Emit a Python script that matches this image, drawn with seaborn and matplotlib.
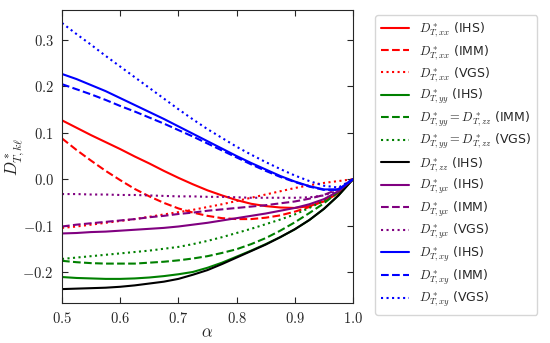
import numpy as np
import pandas as pd
import matplotlib
matplotlib.use("Agg")
import matplotlib.pyplot as plt
from matplotlib.ticker import FuncFormatter
import seaborn as sns

# valores (paso 0.025 en alpha)
alpha = [0.5, 0.525, 0.55, 0.575, 0.6, 0.625, 0.65, 0.675, 0.7, 0.725, 0.75,
         0.775, 0.8, 0.825, 0.85, 0.875, 0.9, 0.925, 0.95, 0.975, 1.0]

xx_ihs = [0.127, 0.111, 0.095, 0.080, 0.065, 0.049, 0.034, 0.018, 0.003, -0.011, -0.024,
          -0.035, -0.045, -0.053, -0.058, -0.061, -0.062, -0.058, -0.048, -0.03, 0.0]
xx_imm = [0.088, 0.063, 0.040, 0.018, -0.002, -0.021, -0.037, -0.051, -0.063, -0.072, -0.079,
          -0.084, -0.086, -0.086, -0.083, -0.078, -0.07, -0.06, -0.046, -0.027, 0.0]
xx_vgs = [-0.105, -0.102, -0.098, -0.094, -0.09, -0.086, -0.081, -0.076, -0.071, -0.066, -0.06,
          -0.054, -0.047, -0.04, -0.033, -0.026, -0.019, -0.013, -0.008, -0.004, 0.0]

yy_ihs = [-0.211, -0.213, -0.214, -0.215, -0.215, -0.214, -0.212, -0.209, -0.205, -0.2, -0.191,
          -0.18, -0.167, -0.154, -0.14, -0.125, -0.108, -0.088, -0.064, -0.035, 0.0]
yy_imm = [-0.176, -0.179, -0.181, -0.182, -0.182, -0.182, -0.18, -0.178, -0.175, -0.171, -0.166,
          -0.159, -0.151, -0.14, -0.127, -0.111, -0.093, -0.073, -0.052, -0.027, 0.0]
yy_vgs = [-0.172, -0.169, -0.166, -0.163, -0.16, -0.157, -0.154, -0.15, -0.146, -0.14, -0.133,
          -0.125, -0.116, -0.107, -0.097, -0.087, -0.076, -0.062, -0.046, -0.025, 0.0]

zz_ihs = [-0.237, -0.236, -0.235, -0.234, -0.232, -0.229, -0.225, -0.221, -0.215, -0.206, -0.196,
          -0.183, -0.169, -0.155, -0.141, -0.125, -0.108, -0.088, -0.064, -0.035, 0.0]

yx_ihs = [-0.117, -0.116, -0.114, -0.113, -0.111, -0.109, -0.107, -0.105, -0.102, -0.098, -0.094,
          -0.089, -0.084, -0.079, -0.074, -0.068, -0.062, -0.054, -0.043, -0.026, 0.0]
yx_imm = [-0.102, -0.098, -0.095, -0.092, -0.089, -0.086, -0.082, -0.079, -0.075, -0.072, -0.068,
          -0.065, -0.062, -0.059, -0.056, -0.052, -0.048, -0.042, -0.034, -0.021, 0.0]
yx_vgs = [-0.032, -0.032, -0.033, -0.033, -0.034, -0.034, -0.035, -0.036, -0.037, -0.037, -0.038,
          -0.038, -0.039, -0.04, -0.04, -0.04, -0.04, -0.039, -0.035, -0.024, 0.0]

xy_ihs = [0.227, 0.216, 0.203, 0.19, 0.175, 0.16, 0.145, 0.13, 0.114, 0.098, 0.082,
          0.066, 0.05, 0.035, 0.021, 0.007, -0.005, -0.015, -0.022, -0.022, 0.0]
xy_imm = [0.205, 0.194, 0.183, 0.171, 0.158, 0.146, 0.133, 0.12, 0.106, 0.092, 0.077,
          0.062, 0.047, 0.032, 0.018, 0.005, -0.006, -0.016, -0.023, -0.023, 0.0]
xy_vgs = [0.337, 0.313, 0.29, 0.266, 0.243, 0.22, 0.197, 0.174, 0.151, 0.129, 0.108,
          0.089, 0.07, 0.053, 0.037, 0.022, 0.008, -0.004, -0.014, -0.018, 0.0]

series = [
    (xx_ihs, r"$D^*_{T,xx}$ (IHS)", "red", "-"),
    (xx_imm, r"$D^*_{T,xx}$ (IMM)", "red", "--"),
    (xx_vgs, r"$D^*_{T,xx}$ (VGS)", "red", ":"),
    (yy_ihs, r"$D^*_{T,yy}$ (IHS)", "green", "-"),
    (yy_imm, r"$D^*_{T,yy} = D^*_{T,zz}$ (IMM)", "green", "--"),
    (yy_vgs, r"$D^*_{T,yy} = D^*_{T,zz}$ (VGS)", "green", ":"),
    (zz_ihs, r"$D^*_{T,zz}$ (IHS)", "black", "-"),
    (yx_ihs, r"$D^*_{T,yx}$ (IHS)", "purple", "-"),
    (yx_imm, r"$D^*_{T,yx}$ (IMM)", "purple", "--"),
    (yx_vgs, r"$D^*_{T,yx}$ (VGS)", "purple", ":"),
    (xy_ihs, r"$D^*_{T,xy}$ (IHS)", "blue", "-"),
    (xy_imm, r"$D^*_{T,xy}$ (IMM)", "blue", "--"),
    (xy_vgs, r"$D^*_{T,xy}$ (VGS)", "blue", ":"),
]

sns.set_style("ticks")
plt.rcParams["mathtext.fontset"] = "cm"
plt.rcParams["font.family"] = ["DejaVu Sans"]

fig = plt.figure(figsize=(5.5, 3.43), dpi=100)
ax = fig.add_axes([62 / 550, 1 - 303 / 343, 291 / 550, 293 / 343])

for vals, etiqueta, color, estilo in series:
    sns.lineplot(x=alpha, y=vals, ax=ax, color=color, linestyle=estilo,
                 linewidth=1.5, label=etiqueta)

ax.set_xlim(0.5, 1.0)
ax.set_ylim(-0.267, 0.365)
ax.set_xticks([0.5, 0.6, 0.7, 0.8, 0.9, 1.0])
ax.set_yticks([-0.2, -0.1, 0.0, 0.1, 0.2, 0.3])
fmt = FuncFormatter(lambda v, _: f"${round(v, 2) + 0.0:.1f}$")
ax.xaxis.set_major_formatter(fmt)
ax.yaxis.set_major_formatter(fmt)
ax.tick_params(direction="in", top=True, right=True, labelsize=10.5,
               length=4, width=0.8, pad=6)
for s in ax.spines.values():
    s.set_linewidth(0.8)

ax.set_xlabel(r"$\alpha$", fontsize=12)
ax.xaxis.set_label_coords(0.5, -0.07)
ax.set_ylabel(r"$D^*_{T,k\ell}$", fontsize=12)
ax.yaxis.set_label_coords(-0.12, 0.5)

ax.legend(loc="center left", bbox_to_anchor=(375 / 550, 1 - 165 / 343),
          bbox_transform=fig.transFigure, fontsize=9, frameon=True,
          handlelength=2.3, labelspacing=0.28, borderpad=0.45, borderaxespad=0,
          handletextpad=0.8, edgecolor="#cccccc", fancybox=True)

fig.savefig("out.png", dpi=100)
